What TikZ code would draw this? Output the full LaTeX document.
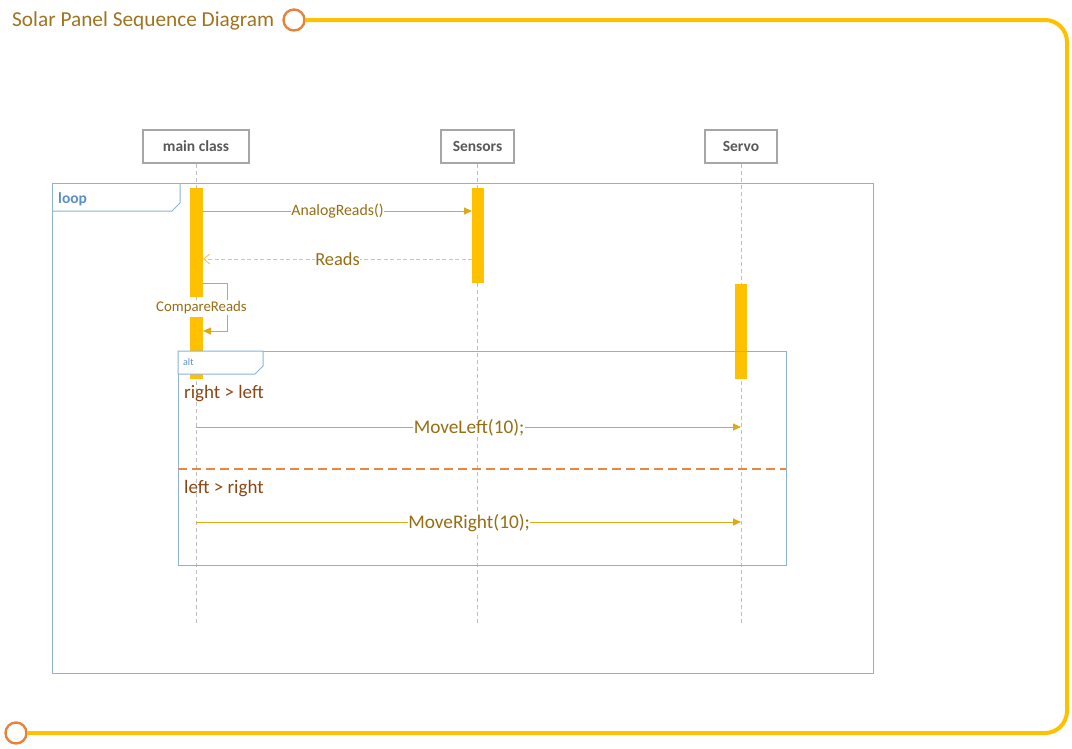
\documentclass[tikz,border=0pt]{standalone}
\usepackage{fontspec}
\setmainfont{Carlito}
\usetikzlibrary{arrows.meta}
\definecolor{frameY}{RGB}{255,192,0}
\definecolor{ringO}{RGB}{230,130,60}
\definecolor{titleC}{RGB}{160,115,30}
\definecolor{boxG}{RGB}{166,166,166}
\definecolor{headT}{RGB}{89,89,89}
\definecolor{fragB}{RGB}{140,178,218}
\definecolor{fragT}{RGB}{91,143,199}
\definecolor{barY}{RGB}{255,192,0}
\definecolor{msgL}{RGB}{220,170,20}
\definecolor{retL}{RGB}{235,200,90}
\definecolor{msgT}{RGB}{150,110,20}
\definecolor{condT}{RGB}{140,70,20}
\definecolor{sepO}{RGB}{232,135,65}
\definecolor{lifeG}{RGB}{190,190,190}
\tikzset{
  x=1pt,y=-1pt,
  headbox/.style={draw=boxG,line width=1.8pt,fill=white,minimum width=#1,minimum height=33pt,inner sep=0pt,font=\fontsize{15.5}{18}\selectfont\bfseries,text=headT},
  lifeline/.style={draw=lifeG,dashed,dash pattern=on 4pt off 3pt,line width=0.7pt},
  actbar/.style={fill=barY,draw=none,minimum width=12.5pt,inner sep=0pt},
  frag/.style={draw=fragB,line width=1pt},
  msg/.style={draw=msgL,line width=1pt,-{Triangle[length=8pt,width=7pt]}},
  ret/.style={draw=retL,line width=0.9pt,dashed,dash pattern=on 4pt off 2.5pt,-{Straight Barb[length=6pt,width=10pt]}},
  msgtext/.style={fill=white,inner sep=0.5pt,text=msgT},
  ring/.style={draw=ringO,line width=2.4pt,fill=white,circle,minimum size=21pt,inner sep=0pt}
}
\begin{document}
\begin{tikzpicture}
\useasboundingbox (0,0) rectangle (1072,748);
% outer frame
\node[ring] (r1) at (294,20) {};
\node[ring] (r2) at (16,733) {};
\draw[frameY,line width=4pt,rounded corners=22pt] (r1.east) -- (1067,20) -- (1067,733) -- (r2.east);
\node[anchor=base west,inner sep=0pt,text=titleC,font=\fontsize{21.3}{24}\selectfont] (title) at (12,26) {Solar Panel Sequence Diagram};
% lifeline heads
\node[headbox=106pt] (mc) at (196,146.5) {main class};
\node[headbox=73pt] (se) at (477.5,146.5) {Sensors};
\node[headbox=72pt] (sv) at (741,146.5) {Servo};
\coordinate (mcEnd) at (196,623);
\coordinate (seEnd) at (477.5,623);
\coordinate (svEnd) at (741,623);
\draw[lifeline] (mc.south) -- (mcEnd);
\draw[lifeline] (se.south) -- (seEnd);
\draw[lifeline] (sv.south) -- (svEnd);
% loop frame
\draw[frag] (52,183) rectangle (873,673);
\draw[frag] (52,211) -- (172,211) -- (180,203) -- (180,183);
\node[anchor=base west,inner sep=0pt,text=fragT,font=\fontsize{15.5}{18}\selectfont\bfseries] (looplbl) at (58,203) {loop};
% activation bars
\node[actbar,minimum height=109pt,anchor=north] (mcA) at (196.5,188) {};
\node[actbar,minimum height=62pt,anchor=north] (mcB) at (196.5,317) {};
\node[actbar,minimum height=95pt,anchor=north] (seA) at (478,188) {};
\node[actbar,minimum height=95pt,anchor=north] (svA) at (741,284) {};
% AnalogReads
\coordinate (m1s) at (203,211);
\coordinate (m1e) at (472,211);
\draw[msg] (m1s) -- (m1e) node[msgtext,midway,font=\fontsize{15.8}{18}\selectfont] (m1l) {AnalogReads()};
% Reads
\coordinate (m2s) at (472,259);
\coordinate (m2e) at (203,259);
\draw[ret] (m2s) -- (m2e) node[msgtext,midway,font=\fontsize{18.4}{21}\selectfont] (m2l) {Reads};
% self message
\coordinate (m3s) at (203,283);
\coordinate (m3e) at (203,331);
\draw[msg] (m3s) -- (227,283) -- (227,331) -- (m3e);
\node[msgtext,fill=white,inner sep=1pt,font=\fontsize{14.8}{17}\selectfont] (m3l) at (201.5,307.5) {CompareReads};
% alt frame
\draw[frag] (178,351) rectangle (786,565);
\draw[frag,fill=white] (178,351) -- (178,374) -- (255,374) -- (263,366) -- (263,351) -- cycle;
\node[anchor=base west,inner sep=0pt,text=fragT,font=\fontsize{10}{12}\selectfont] (altlbl) at (183,365) {alt};
\node[anchor=base west,inner sep=0pt,text=condT,font=\fontsize{19}{22}\selectfont] (c1) at (184,398) {right > left};
\draw[draw=sepO,line width=1.2pt,dashed,dash pattern=on 9pt off 5pt] (178,469) -- (786,469);
\node[anchor=base west,inner sep=0pt,text=condT,font=\fontsize{19}{22}\selectfont] (c2) at (184,493) {left > right};
% MoveLeft / MoveRight
\coordinate (m4s) at (196,427);
\coordinate (m4e) at (741,427);
\draw[msg] (m4s) -- (m4e) node[msgtext,pos=0.501,yshift=-1pt,font=\fontsize{19.3}{22}\selectfont] (m4l) {MoveLeft(10);};
\coordinate (m5s) at (196,522);
\coordinate (m5e) at (741,522);
\draw[msg] (m5s) -- (m5e) node[msgtext,pos=0.501,yshift=-1pt,font=\fontsize{19.3}{22}\selectfont] (m5l) {MoveRight(10);};
\end{tikzpicture}
\end{document}
